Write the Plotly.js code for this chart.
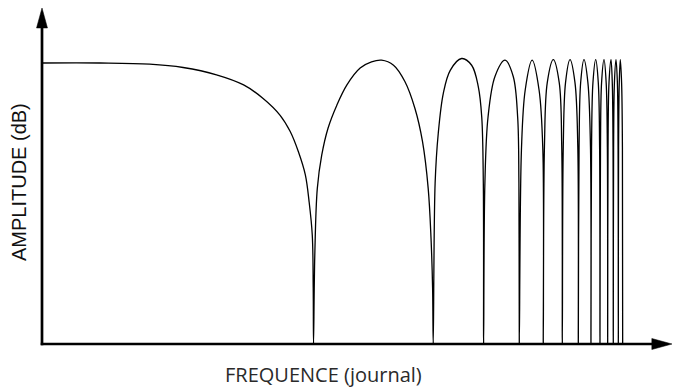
<!DOCTYPE html>
<html>
<head>
<meta charset="utf-8">
<script src="https://cdn.plot.ly/plotly-3.0.1.min.js"></script>
<style>
  html, body { margin: 0; padding: 0; background: #ffffff; }
  #chart { width: 673px; height: 390px; }
</style>
</head>
<body>
<div id="chart"></div>
<script>
// Position along the logarithmic frequency axis (0 = origin, 100 = arrow tip)
const frequence = [
  0, 9.2, 17.1, 22.4, 27.7, 32.0, 35.1, 37.8, 39.4, 40.7, 41.8, 42.4, 42.9, 43.05, 43.1,
  43.3, 43.7, 44.4, 45.4, 46.8, 48.4, 50.5, 52.3, 53.9, 55.8, 57.6, 59.2, 60.4, 61.3, 61.75, 62.0, 62.1,
  62.4, 62.9, 63.7, 64.8, 66.6, 68.2, 69.25, 69.8, 70.05, 70.1,
  70.3, 70.8, 71.9, 73.5, 74.8, 75.5, 75.7, 75.76,
  76.1, 76.7, 77.8, 78.9, 79.5, 79.57,
  79.75, 80.2, 81.16, 82.1, 82.5, 82.59,
  82.74, 83.1, 83.81, 84.6, 85.05, 85.13,
  85.25, 85.5, 86.03, 86.65, 87.06, 87.14,
  87.23, 87.45, 87.89, 88.3, 88.51, 88.57,
  88.65, 88.82, 89.21, 89.55, 89.74, 89.79,
  89.85, 90.0, 90.32, 90.52, 90.64, 90.68,
  90.73, 90.86, 91.11, 91.33, 91.44, 91.48,
  91.52, 91.63, 91.79, 92.0, 92.13, 92.17
];

// Amplitude in dB (0 dB = low-frequency plateau, -50 dB = axis floor / nulls)
const amplitude = [
  0, 0, -0.2, -0.8, -2.1, -3.9, -6.3, -9.3, -12.2, -15.8, -19.9, -24.7, -30.6, -40.0, -50,
  -34.2, -22.3, -16.4, -11.6, -7.5, -3.9, -0.9, 0.2, 0.5, -0.4, -3.3, -8.1, -14.0, -22.3, -31.2, -40.1, -50,
  -21.4, -12.5, -5.4, -1.3, 0.8, -0.4, -4.2, -9.6, -21.4, -50,
  -21.4, -9.6, -2.4, 0.5, -2.4, -9.6, -21.4, -50,
  -15.5, -4.8, 0.5, -4.8, -15.5, -50,
  -15, -3.5, 0.6, -3.5, -15, -50,
  -15, -3.5, 0.6, -3.5, -15, -50,
  -15, -3.5, 0.6, -3.5, -15, -50,
  -15, -3.5, 0.6, -3.5, -15, -50,
  -15, -3.5, 0.6, -3.5, -15, -50,
  -15, -3.5, 0.6, -3.5, -15, -50,
  -15, -3.5, 0.6, -3.5, -15, -50,
  -15, -3.5, 0.6, -3.5, -15, -50
];

const xTitle = 'FREQUENCE (journal)';
const yTitle = 'AMPLITUDE (dB)';

const trace = {
  x: frequence,
  y: amplitude,
  type: 'scatter',
  mode: 'lines',
  line: { color: '#000000', width: 1.3, shape: 'spline', smoothing: 1 },
  hoverinfo: 'skip',
  showlegend: false
};

const axisCommon = {
  showgrid: false, zeroline: false, showline: false,
  showticklabels: false, ticks: '', fixedrange: true
};

const layout = {
  width: 673,
  height: 390,
  margin: { l: 42, r: 1, t: 8, b: 46, pad: 0 },
  paper_bgcolor: '#ffffff',
  plot_bgcolor: '#ffffff',
  showlegend: false,
  xaxis: Object.assign({ range: [0, 100] }, axisCommon),
  yaxis: Object.assign({ range: [-50, 9.79] }, axisCommon),
  shapes: [
    // vertical axis line
    { type: 'line', xref: 'paper', yref: 'paper', x0: 0, x1: 0, y0: -0.004, y1: 0.945,
      line: { color: '#000000', width: 2.7 } },
    // horizontal axis line
    { type: 'line', xref: 'paper', yref: 'paper', x0: -0.002, x1: 0.972, y0: 0, y1: 0,
      line: { color: '#000000', width: 2.7 } },
    // top arrow head
    { type: 'path', xref: 'paper', yref: 'paper',
      path: 'M -0.0087,0.9405 L 0,1 L 0.0087,0.9405 Z',
      fillcolor: '#000000', line: { color: '#000000', width: 0.5 } },
    // right arrow head
    { type: 'path', xref: 'paper', yref: 'paper',
      path: 'M 0.968,-0.0164 L 1,0 L 0.968,0.0164 Z',
      fillcolor: '#000000', line: { color: '#000000', width: 0.5 } }
  ],
  annotations: [
    { text: xTitle, xref: 'paper', yref: 'paper', x: 0.4476, y: -0.0914,
      xanchor: 'center', yanchor: 'middle', showarrow: false,
      font: { family: 'Open Sans, sans-serif', size: 20, color: '#2a2a2a' } },
    { text: yTitle, xref: 'paper', yref: 'paper', x: -0.0365, y: 0.482,
      xanchor: 'center', yanchor: 'middle', showarrow: false, textangle: -90,
      font: { family: 'Liberation Sans, Arial, sans-serif', size: 20, color: '#111111' } }
  ]
};

Plotly.newPlot('chart', [trace], layout, { staticPlot: true, displayModeBar: false });
</script>
</body>
</html>
